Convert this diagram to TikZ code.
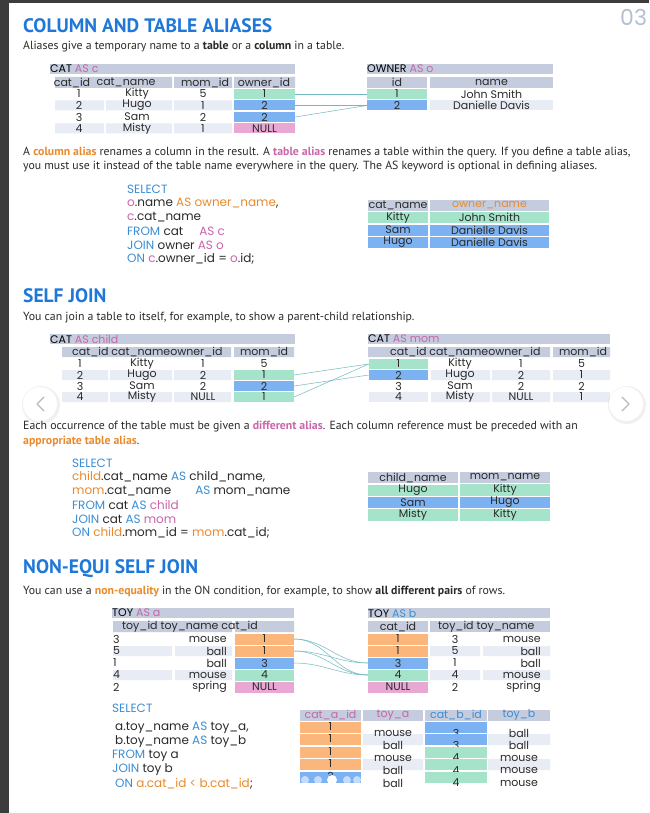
\documentclass[tikz,border=0pt]{standalone}
\usepackage{fontspec}
\usepackage{xcolor}
\usepackage{tikz}
\newfontfamily\plexfont{PT Sans}
\newfontfamily\montfont{Poppins}
\definecolor{headblue}{HTML}{1F78D8}
\definecolor{ink}{HTML}{2A2A2A}
\definecolor{kwblue}{HTML}{3B8ED4}
\definecolor{aliaspink}{HTML}{C965A9}
\definecolor{colorange}{HTML}{E98A2C}
\definecolor{hdrgray}{HTML}{C4CCDE}
\definecolor{rowgray}{HTML}{E8ECF4}
\definecolor{cgreen}{HTML}{A5E4CA}
\definecolor{cblue}{HTML}{7DB2F2}
\definecolor{cpink}{HTML}{E9A8D3}
\definecolor{corange}{HTML}{FBB67B}
\definecolor{linkteal}{HTML}{71B9C2}
\definecolor{pagegray}{HTML}{B3C0D0}
\definecolor{framegray}{HTML}{3C3C3C}
\newcommand{\headfont}{\plexfont\bfseries\fontsize{19.5}{22}\selectfont}
\newcommand{\bodyfont}{\plexfont\fontsize{11.8}{14}\selectfont}
\newcommand{\tabfont}{\montfont\fontsize{11}{12}\selectfont}
\newcommand{\codefont}{\montfont\fontsize{12}{14}\selectfont}

\begin{document}
\begin{tikzpicture}[x=1pt, y=-1pt,
  heading/.style={anchor=west, inner sep=0pt, font=\headfont, text=headblue},
  para/.style={anchor=west, inner sep=0pt, font=\bodyfont, text=ink},
  code/.style={anchor=west, inner sep=0pt, font=\codefont, text=ink},
  cell/.style={rectangle, inner sep=0pt, minimum height=10pt, font=\tabfont, text=ink},
  hcell/.style={cell, fill=hdrgray, minimum height=11pt},
  tabtitle/.style={anchor=west, inner sep=0pt, font=\tabfont, text=black},
  link/.style={draw=linkteal, line width=0.5pt},
]
\useasboundingbox (0,0) rectangle (649,813);
\fill[white] (0,0) rectangle (649,813);
\fill[framegray] (0,0) rectangle (9,813);
\fill[framegray] (0,0) rectangle (649,3);
\node[anchor=west, inner sep=0pt, font=\montfont\fontsize{22}{24}\selectfont, text=pagegray] (pagenum) at (620,17) {03};

\node[heading] (h1) at (23,26) {COLUMN AND TABLE ALIASES};
\node[para] (p1) at (23,47) {Aliases give a temporary name to a \textbf{table} or a \textbf{column} in a table.};

\fill[hdrgray] (50,64) rectangle (295,74);
\node[tabtitle] (c-title) at (50,69) {CAT \textcolor{aliaspink}{AS c}};
\fill[hdrgray] (55,77) rectangle (172,88) (174,77) rectangle (232,88) (234,77) rectangle (295,88);
\node[cell] (c-h1) at (72,82.5) {cat\_id};
\node[cell] (c-h2) at (126,82.5) {cat\_name};
\node[cell] (c-h3) at (205,82.5) {mom\_id};
\node[cell] (c-h4) at (264,82.5) {owner\_id};
\foreach \y in {105.5,128.5}
  \fill[rowgray] (55,\y-5) rectangle (104,\y+5) (106,\y-5) rectangle (172,\y+5) (174,\y-5) rectangle (232,\y+5);
\foreach \i/\nm/\mom/\own/\col/\y in {1/Kitty/5/1/cgreen/94, 2/Hugo/1/2/cblue/105.5, 3/Sam/2/2/cblue/117, 4/Misty/1/NULL/cpink/128.5} {
  \node[cell] (c-id\i) at (79,\y) {\i};
  \node[cell] (c-name\i) at (137,\y) {\nm};
  \node[cell] (c-mom\i) at (203,\y) {\mom};
  \node[cell, fill=\col, minimum width=61pt] (c-own\i) at (264.5,\y) {\own};
}

\fill[hdrgray] (367,64) rectangle (553,74);
\node[tabtitle] (o-title) at (367,69) {OWNER \textcolor{aliaspink}{AS o}};
\node[hcell, minimum width=60pt] (o-h1) at (397,82.5) {id};
\node[hcell, minimum width=123pt] (o-h2) at (491.5,82.5) {name};
\node[cell, fill=cgreen, minimum width=60pt] (o-id1) at (397,94) {1};
\node[cell] (o-name1) at (491.5,94) {John Smith};
\node[cell, fill=cblue, minimum width=60pt] (o-id2) at (397,105.5) {2};
\node[cell, fill=rowgray, minimum width=123pt] (o-name2) at (491.5,105.5) {Danielle Davis};
\draw[link] (c-own1.east) -- (o-id1.west);
\draw[link] (c-own2.east) -- (o-id2.west);
\draw[link] (c-own3.east) -- (o-id2.west);

\node[para] (p2) at (23,153) {A \textbf{\textcolor{colorange}{column alias}} renames a column in the result. A \textbf{\textcolor{aliaspink}{table alias}} renames a table within the query. If you define a table alias,};
\node[para] (p3) at (23,167) {you must use it instead of the table name everywhere in the query. The AS keyword is optional in defining aliases.};

\node[code, text=kwblue] (s1-l1) at (127,189) {SELECT};
\node[code] (s1-l2) at (127,203) {\textcolor{aliaspink}{o}.name \textcolor{colorange}{AS owner\_name},};
\node[code] (s1-l3) at (127,217) {\textcolor{aliaspink}{c}.cat\_name};
\node[code] (s1-l4) at (127,231) {\textcolor{kwblue}{FROM} cat\hspace{16pt}\textcolor{aliaspink}{AS c}};
\node[code] (s1-l5) at (127,245) {\textcolor{kwblue}{JOIN} owner \textcolor{aliaspink}{AS o}};
\node[code] (s1-l6) at (127,259) {\textcolor{kwblue}{ON} \textcolor{aliaspink}{c}.owner\_id = \textcolor{aliaspink}{o}.id;};

\node[hcell, minimum width=60pt] (r1-h1) at (398,205) {cat\_name};
\node[hcell, minimum width=119pt, text=colorange] (r1-h2) at (489.5,205) {owner\_name};
\foreach \i/\a/\b/\col/\y in {1/Kitty/John Smith/cgreen/217.5, 2/Sam/Danielle Davis/cblue/230, 3/Hugo/Danielle Davis/cblue/242.5} {
  \node[cell, fill=\col, minimum width=60pt, minimum height=11pt] (r1-a\i) at (398,\y) {\a};
  \node[cell, fill=\col, minimum width=119pt, minimum height=11pt] (r1-b\i) at (489.5,\y) {\b};
}

\node[heading] (h2) at (23,296) {SELF JOIN};
\node[para] (p4) at (23,318) {You can join a table to itself, for example, to show a parent-child relationship.};

\fill[hdrgray] (50,334) rectangle (295,344);
\node[tabtitle] (l-title) at (50,339) {CAT \textcolor{aliaspink}{AS child}};
\fill[hdrgray] (62,347) rectangle (231,357) (234,347) rectangle (294,357);
\node[cell, anchor=west] (l-h1) at (72,352) {cat\_id cat\_nameowner\_id};
\node[cell] (l-h2) at (264,352) {mom\_id};
\foreach \y in {375,397}
  \fill[rowgray] (62,\y-5) rectangle (108,\y+5) (110,\y-5) rectangle (172,\y+5) (174,\y-5) rectangle (231,\y+5);
\foreach \i/\nm/\own/\mom/\col/\y in {1/Kitty/1/5/white/364, 2/Hugo/2/1/cgreen/375, 3/Sam/2/2/cblue/386, 4/Misty/NULL/1/cgreen/397} {
  \node[cell] (l-id\i) at (80,\y) {\i};
  \node[cell] (l-name\i) at (142,\y) {\nm};
  \node[cell] (l-own\i) at (203,\y) {\own};
  \node[cell, fill=\col, minimum width=60pt] (l-mom\i) at (264,\y) {\mom};
}

\fill[hdrgray] (368,334) rectangle (610,344);
\node[tabtitle] (m-title) at (368,339) {CAT \textcolor{aliaspink}{AS mom}};
\fill[hdrgray] (368,347) rectangle (550,357) (553,347) rectangle (610,357);
\node[cell, anchor=west] (m-h1) at (390,352) {cat\_id cat\_nameowner\_id};
\node[cell] (m-h2) at (583,352) {mom\_id};
\foreach \y in {375,397}
  \fill[rowgray] (431,\y-5) rectangle (490,\y+5) (492,\y-5) rectangle (550,\y+5) (553,\y-5) rectangle (610,\y+5);
\foreach \i/\nm/\own/\mom/\col/\y in {1/Kitty/1/5/cgreen/364, 2/Hugo/2/1/cblue/375, 3/Sam/2/2/white/386, 4/Misty/NULL/1/rowgray/397} {
  \node[cell, fill=\col, minimum width=59pt] (m-id\i) at (398.5,\y) {\i};
  \node[cell] (m-name\i) at (460,\y) {\nm};
  \node[cell] (m-own\i) at (521,\y) {\own};
  \node[cell] (m-mom\i) at (581.5,\y) {\mom};
}
\draw[link] (l-mom2.east) -- (m-id1.west);
\draw[link] (l-mom3.east) -- (m-id2.west);
\draw[link] (l-mom4.east) -- (m-id1.west);

\fill[black, opacity=0.06] (41,405) circle (19pt);
\fill[white] (40,404) circle (17pt);
\draw[gray!55, line width=1.3pt, line cap=round, line join=round] (44,397) -- (37,404) -- (44,411);
\fill[black, opacity=0.06] (627,405) circle (19pt);
\fill[white] (626,404) circle (17pt);
\draw[gray!55, line width=1.3pt, line cap=round, line join=round] (622,397) -- (629,404) -- (622,411);

\node[para] (p5) at (23,427) {Each occurrence of the table must be given a \textbf{\textcolor{aliaspink}{different alias}}. Each column reference must be preceded with an};
\node[para] (p6) at (23,441) {\textbf{\textcolor{colorange}{appropriate table alias}}.};

\node[code, text=kwblue] (s2-l1) at (72,463) {SELECT};
\node[code] (s2-l2) at (72,477) {\textcolor{colorange}{child}.cat\_name \textcolor{kwblue}{AS} child\_name,};
\node[code] (s2-l3) at (72,491) {\textcolor{colorange}{mom}.cat\_name\hspace{24pt}\textcolor{kwblue}{AS} mom\_name};
\node[code] (s2-l4) at (72,505) {\textcolor{kwblue}{FROM} cat \textcolor{kwblue}{AS} \textcolor{aliaspink}{child}};
\node[code] (s2-l5) at (72,519) {\textcolor{kwblue}{JOIN} cat \textcolor{kwblue}{AS} \textcolor{aliaspink}{mom}};
\node[code] (s2-l6) at (72,533) {\textcolor{kwblue}{ON} \textcolor{colorange}{child}.mom\_id = \textcolor{colorange}{mom}.cat\_id;};

\node[hcell, minimum width=90pt] (r2-h1) at (413,477.5) {child\_name};
\node[hcell, minimum width=90pt] (r2-h2) at (505,477.5) {mom\_name};
\foreach \i/\a/\b/\col/\y in {1/Hugo/Kitty/cgreen/490, 2/Sam/Hugo/cblue/502.5, 3/Misty/Kitty/cgreen/515} {
  \node[cell, fill=\col, minimum width=90pt, minimum height=11pt] (r2-a\i) at (413,\y) {\a};
  \node[cell, fill=\col, minimum width=90pt, minimum height=11pt] (r2-b\i) at (505,\y) {\b};
}

\node[heading] (h3) at (23,569) {NON-EQUI SELF JOIN};
\node[para] (p7) at (23,592) {You can use a \textbf{\textcolor{colorange}{non-equality}} in the ON condition, for example, to show \textbf{all different pairs} of rows.};

\fill[hdrgray] (112,608) rectangle (294,618);
\node[tabtitle] (a-title) at (112,613) {TOY \textcolor{aliaspink}{AS a}};
\fill[hdrgray] (113,621) rectangle (232,632) (235,621) rectangle (294,632);
\node[cell, anchor=west] (a-h1) at (122,626.5) {toy\_id toy\_name cat\_id};
\foreach \y in {651,675}
  \fill[rowgray] (113,\y-5) rectangle (172,\y+5) (175,\y-5) rectangle (232,\y+5);
\foreach \i/\tid/\nm/\cat/\col/\y in {1/3/mouse/1/corange/639, 2/5/ball/1/corange/651, 3/1/ball/3/cblue/663, 4/4/mouse/4/cgreen/675, 5/2/spring/NULL/cpink/687} {
  \node[cell, anchor=west] (a-id\i) at (113,\y) {\tid};
  \node[cell, anchor=east] (a-name\i) at (227,\y) {\nm};
  \node[cell, fill=\col, minimum width=59pt, minimum height=11pt] (a-cat\i) at (264.5,\y) {\cat};
}

\fill[hdrgray] (368,608) rectangle (550,618);
\node[tabtitle] (b-title) at (368,613) {TOY \textcolor{kwblue}{AS b}};
\node[hcell, minimum width=60pt] (b-h1) at (398,626.5) {cat\_id};
\fill[hdrgray] (430,621) rectangle (550,632);
\node[cell, anchor=west] (b-h2) at (438,626.5) {toy\_id toy\_name};
\foreach \y in {651,675}
  \fill[rowgray] (430,\y-5) rectangle (480,\y+5) (483,\y-5) rectangle (550,\y+5);
\foreach \i/\tid/\nm/\cat/\col/\y in {1/3/mouse/1/corange/639, 2/5/ball/1/corange/651, 3/1/ball/3/cblue/663, 4/4/mouse/4/cgreen/675, 5/2/spring/NULL/cpink/687} {
  \node[cell, fill=\col, minimum width=60pt, minimum height=11pt] (b-cat\i) at (398,\y) {\cat};
  \node[cell] (b-id\i) at (455,\y) {\tid};
  \node[cell, anchor=east] (b-name\i) at (541,\y) {\nm};
}
\draw[link] (a-cat1.east) to[out=0, in=180] (b-cat3.west);
\draw[link] (a-cat1.east) to[out=0, in=180] (b-cat4.west);
\draw[link] (a-cat2.east) to[out=0, in=180] (b-cat3.west);
\draw[link] (a-cat2.east) to[out=0, in=180] (b-cat4.west);
\draw[link] (a-cat3.east) to[out=0, in=180] (b-cat4.west);

\node[code, text=kwblue] (s3-l1) at (112,708) {SELECT};
\node[code] (s3-l2) at (115,728) {a.toy\_name \textcolor{kwblue}{AS} toy\_a,};
\node[code] (s3-l3) at (115,742) {b.toy\_name \textcolor{kwblue}{AS} toy\_b};
\node[code] (s3-l4) at (112,756) {\textcolor{kwblue}{FROM} toy a};
\node[code] (s3-l5) at (112,770) {\textcolor{kwblue}{JOIN} toy b};
\node[code] (s3-l6) at (115,784) {\textcolor{kwblue}{ON} \textcolor{colorange}{a.cat\_id < b.cat\_id};};

\node[hcell, minimum width=61pt, text=aliaspink] (r3-h1) at (330.5,715) {cat\_a\_id};
\node[hcell, minimum width=60pt, text=aliaspink] (r3-h2) at (393,715) {toy\_a};
\node[hcell, minimum width=62pt, text=kwblue] (r3-h3) at (456,715) {cat\_b\_id};
\node[hcell, minimum width=62pt, text=kwblue] (r3-h4) at (519,715) {toy\_b};
\foreach \y in {739.5,764.5}
  \fill[rowgray] (363,\y-5.5) rectangle (423,\y+5.5) (488,\y-5.5) rectangle (550,\y+5.5);
\foreach \i/\ca/\ta/\cb/\tb/\cola/\colb/\y in {1/1/mouse/3/ball/corange/cblue/727, 2/1/ball/3/ball/corange/cblue/739.5, 3/1/mouse/4/mouse/corange/cgreen/752, 4/1/ball/4/mouse/corange/cgreen/764.5, 5/3/ball/4/mouse/cblue/cgreen/777} {
  \node[cell, fill=\cola, minimum width=61pt, minimum height=11pt] (r3-ca\i) at (330.5,\y) {\raisebox{1pt}{\ca}};
  \node[cell, fill=\colb, minimum width=62pt, minimum height=11pt] (r3-cbbox\i) at (456,\y) {};
  \node[cell] (r3-ta\i) at (393,\y+6) {\ta};
  \node[cell] (r3-cb\i) at (456,\y+6) {\cb};
  \node[cell] (r3-tb\i) at (519,\y+6) {\tb};
}
\foreach \x in {305,318,347,357}
  \fill[white, opacity=0.55] (\x,780) circle (4pt);
\fill[white] (332,780) circle (5pt);
\end{tikzpicture}
\end{document}
